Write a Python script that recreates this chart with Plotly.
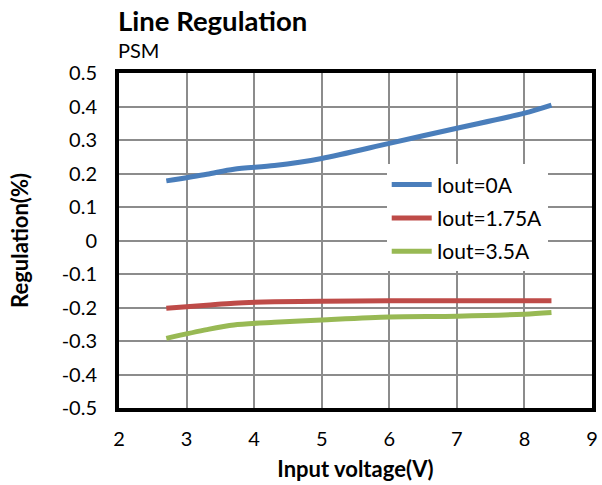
import plotly.graph_objects as go

vin = [2.7, 3.3, 3.7, 4.3, 5.0, 6.0, 7.0, 8.0, 8.4]
iout_0A = [0.178, 0.198, 0.213, 0.224, 0.245, 0.290, 0.335, 0.380, 0.404]
iout_175A = [-0.202, -0.193, -0.187, -0.183, -0.181, -0.180, -0.180, -0.180, -0.180]
iout_35A = [-0.292, -0.266, -0.252, -0.244, -0.237, -0.228, -0.226, -0.220, -0.215]

series_names = ["Iout=0A", "Iout=1.75A", "Iout=3.5A"]
series_values = [iout_0A, iout_175A, iout_35A]
colors = ["#4a7ebb", "#be4b48", "#98b954"]

x_ticks = [2, 3, 4, 5, 6, 7, 8, 9]
y_ticks = [0.5, 0.4, 0.3, 0.2, 0.1, 0, -0.1, -0.2, -0.3, -0.4, -0.5]
y_tick_labels = ["0.5", "0.4", "0.3", "0.2", "0.1", "0", "-0.1", "-0.2", "-0.3", "-0.4", "-0.5"]

FONT = "Lato, Carlito, Calibri, sans-serif"

fig = go.Figure()
for i, (name, vals, c) in enumerate(zip(series_names, series_values, colors)):
    fig.add_trace(go.Scatter(x=vin, y=vals, mode="lines", name=name, legendgroup=f"g{i}",
                             line=dict(color=c, width=5, shape="spline", smoothing=0.8)))

fig.update_layout(
    width=602, height=485,
    margin=dict(l=119, r=10, t=73, b=77, autoexpand=False),
    paper_bgcolor="white", plot_bgcolor="white",
    font=dict(family=FONT, color="black", size=20),
    showlegend=True,
    legend=dict(x=0.566, y=0.727, xanchor="left", yanchor="top",
                bgcolor="white", font=dict(size=21, family=FONT),
                traceorder="grouped", tracegroupgap=3, itemwidth=40),
    annotations=[
        dict(text="<b>Line Regulation</b>", x=0, y=1.0, xref="paper", yref="paper",
             xanchor="left", yanchor="bottom", yshift=34, xshift=-3,
             showarrow=False, font=dict(size=27.5, family=FONT)),
        dict(text="PSM", x=0, y=1.0, xref="paper", yref="paper", xanchor="left", yanchor="bottom",
             showarrow=False, font=dict(size=20, family=FONT), yshift=9, xshift=-3),
    ],
)

fig.update_xaxes(range=[2, 9], tickvals=x_ticks, showgrid=True, gridcolor="#8c8c8c", gridwidth=1.5,
                 showline=True, linecolor="black", linewidth=4, mirror=True, zeroline=False,
                 ticks="", ticklen=0, automargin=False, ticklabelstandoff=10,
                 title=dict(text="<b>Input voltage(V)</b>", font=dict(size=22, family=FONT), standoff=14),
                 tickfont=dict(size=20))
fig.update_yaxes(range=[-0.5, 0.5], tickvals=y_ticks, ticktext=y_tick_labels, showgrid=True,
                 gridcolor="#8c8c8c", gridwidth=1.5,
                 showline=True, linecolor="black", linewidth=4, mirror=True, zeroline=False,
                 ticks="", ticklen=0, automargin=False, ticklabelstandoff=14,
                 title=dict(text="<b>Regulation(%)</b>", font=dict(size=22, family=FONT), standoff=28),
                 tickfont=dict(size=20))

fig.write_html("out.html", config={"displayModeBar": False},
               post_script="document.body.style.margin='0';document.body.style.overflow='hidden';")
